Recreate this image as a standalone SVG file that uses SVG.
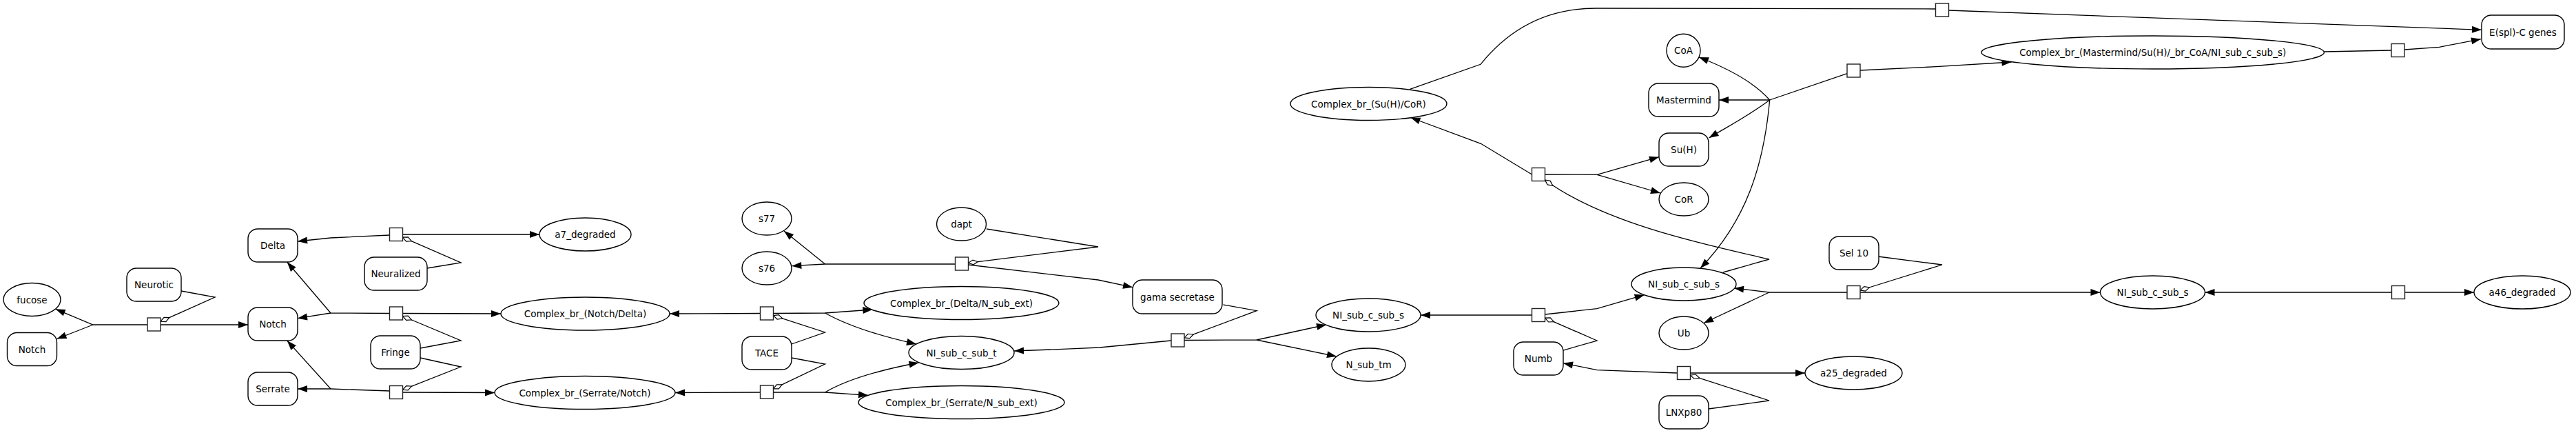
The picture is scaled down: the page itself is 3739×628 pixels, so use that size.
<svg xmlns="http://www.w3.org/2000/svg" width="3739" height="628" viewBox="0 0 3739 628">
<style>
.nd rect,.nd ellipse{fill:#fff;stroke:#000;stroke-width:1.4}
.sq{fill:#fff;stroke:#222;stroke-width:1.4}
.ed path{fill:none;stroke:#000;stroke-width:1.3}
.ed .a{marker-end:url(#ar)}
.ed .m{marker-end:url(#dm)}
text{font-family:"DejaVu Sans","Liberation Sans",sans-serif;font-size:13.5px;text-anchor:middle;fill:#000}
</style>
<defs>
<marker id="ar" markerUnits="userSpaceOnUse" markerWidth="15" markerHeight="11" refX="14" refY="5" orient="auto" overflow="visible"><path d="M0,0 L14,5 L0,10 z" fill="#000"/></marker>
<marker id="dm" markerUnits="userSpaceOnUse" markerWidth="16" markerHeight="9" refX="14.5" refY="4" orient="auto" overflow="visible"><path d="M0.5,4 L7.5,0.6 L14.5,4 L7.5,7.4 z" fill="#fff" stroke="#000" stroke-width="1.2"/></marker>
</defs>
<rect width="3739" height="628" fill="#fff"/>
<g id="edges" class="ed">
<path class="a" d="M214,471 L135,471 L80.7,448.3"/>
<path class="a" d="M135,471 L82.5,491.5"/>
<path class="a" d="M233,471 L360,471"/>
<path class="m" d="M263,422 L312,431 L233,466.3"/>
<path class="a" d="M565.5,341 L480,345 L432,350"/>
<path class="a" d="M584.5,340 L783,340"/>
<path class="m" d="M620,389 L669,381 L584.5,344.1"/>
<path class="a" d="M565.5,454.5 L480,454 L416.7,380"/>
<path class="a" d="M480,454 L432,461.7"/>
<path class="a" d="M584.5,454.5 L727,455"/>
<path class="m" d="M610,505 L669,494 L584.5,458.5"/>
<path class="a" d="M565.5,567 L480,564 L432,564"/>
<path class="a" d="M480,564 L416.7,494"/>
<path class="a" d="M584.5,569 L718,569.5"/>
<path class="m" d="M610,519 L669,532 L584.5,565.3"/>
<path class="a" d="M1103.5,454.5 L972,455"/>
<path class="a" d="M1122.5,454.5 L1197.5,454 L1266.4,449"/>
<path class="a" d="M1197.5,454 C1230,472 1280,488 1330,499"/>
<path class="m" d="M1149,499 L1197.5,482 L1122.5,457.6"/>
<path class="a" d="M1103.5,569 L980,569.5"/>
<path class="a" d="M1122.5,569 L1197.5,569 L1260,573.3"/>
<path class="a" d="M1197.5,569 C1230,550 1280,536 1333.5,526"/>
<path class="m" d="M1149,519 L1197.5,528 L1122.5,563.9"/>
<path class="a" d="M1386.5,383 L1197.5,383 L1149.3,385.7"/>
<path class="a" d="M1197.5,383 L1138,335"/>
<path class="a" d="M1405.5,384 L1594,406 L1644,416.7"/>
<path class="m" d="M1431.8,332 L1594,358 L1405.5,381.3"/>
<path class="a" d="M1700,494 L1596,504 L1560,505.7 L1472,509"/>
<path class="a" d="M1719,493.5 L1824,493 L1925,471"/>
<path class="a" d="M1824,493 L1940,517"/>
<path class="m" d="M1775.5,442 L1824,450.7 L1719,489.9"/>
<path class="a" d="M2223.5,457 L2062,457"/>
<path class="a" d="M2242.5,456 L2318,447.7 L2386.7,427.7"/>
<path class="m" d="M2269,508 L2318,494 L2242.5,461.1"/>
<path class="a" d="M2434.5,541 L2318,536.7 L2269,526.7"/>
<path class="a" d="M2453.5,541 L2620,541"/>
<path class="m" d="M2480,593 L2568,581 L2453.5,544.1"/>
<path class="a" d="M2681,424 L2568,424 L2517,418"/>
<path class="a" d="M2568,424 L2473,468.5"/>
<path class="a" d="M2700,424 L2820,424 L3048.5,424"/>
<path class="m" d="M2726,372 L2819,384 L2700,421"/>
<path class="a" d="M3472,424 L3423,424 L3200.5,424"/>
<path class="a" d="M3490,424 L3540.5,424 L3591,424"/>
<path class="a" d="M2223.5,253 L2149.4,208.3 L2047.5,170.5"/>
<path class="a" d="M2242.5,253 L2318,253.3 L2408,227.7"/>
<path class="a" d="M2318,253.3 L2410,280"/>
<path class="m" d="M2501,395 L2568,376 C2480,356 2330,325 2242.5,261"/>
<path d="M2046.6,129.3 L2149,93.3 C2200,30 2260,12 2316,12 L2809.5,13"/>
<path class="a" d="M2828.5,15 L3602,43.3"/>
<path d="M2681,106.7 L2568.7,145"/>
<path class="a" d="M2568.7,145 C2545,118 2505,98 2466,83"/>
<path class="a" d="M2568.7,145 L2495,145"/>
<path class="a" d="M2568.7,145 C2535,170 2505,185 2480.5,200"/>
<path class="a" d="M2568.7,145 C2560,240 2535,320 2468,389"/>
<path class="a" d="M2700,102 L2810.6,96.7 L2919.5,90"/>
<path d="M3373.4,75 L3471,73"/>
<path class="a" d="M3490,72 L3540.5,68.3 L3601,56.7"/>
</g>
<g id="n_fucose" class="nd"><ellipse cx="46.5" cy="434.5" rx="41.5" ry="24"/><text x="46.5" y="439.5">fucose</text></g>
<g id="n_notch_left" class="nd"><rect x="10.5" y="482.5" width="72" height="48" rx="14"/><text x="46.5" y="511.5">Notch</text></g>
<g id="n_neurotic" class="nd"><rect x="184" y="389" width="79" height="48" rx="14"/><text x="223.5" y="418">Neurotic</text></g>
<g id="n_delta" class="nd"><rect x="360" y="332" width="72" height="48" rx="14"/><text x="396" y="361">Delta</text></g>
<g id="n_notch" class="nd"><rect x="360" y="446" width="72" height="48" rx="14"/><text x="396" y="475">Notch</text></g>
<g id="n_serrate" class="nd"><rect x="360" y="540" width="72" height="48" rx="14"/><text x="396" y="569">Serrate</text></g>
<g id="n_neuralized" class="nd"><rect x="529" y="373" width="91" height="48" rx="14"/><text x="574.5" y="402">Neuralized</text></g>
<g id="n_fringe" class="nd"><rect x="538" y="487" width="72" height="48" rx="14"/><text x="574" y="516">Fringe</text></g>
<g id="n_a7" class="nd"><ellipse cx="849.5" cy="340" rx="66.5" ry="24"/><text x="849.5" y="345">a7_degraded</text></g>
<g id="n_cx_nd" class="nd"><ellipse cx="849.5" cy="455" rx="122.5" ry="24"/><text x="849.5" y="460">Complex_br_(Notch/Delta)</text></g>
<g id="n_cx_sn" class="nd"><ellipse cx="849" cy="569.5" rx="131" ry="24"/><text x="849" y="574.5">Complex_br_(Serrate/Notch)</text></g>
<g id="n_s77" class="nd"><ellipse cx="1113" cy="317" rx="36" ry="24"/><text x="1113" y="322">s77</text></g>
<g id="n_s76" class="nd"><ellipse cx="1113" cy="389" rx="36" ry="24"/><text x="1113" y="394">s76</text></g>
<g id="n_tace" class="nd"><rect x="1077" y="488" width="72" height="48" rx="14"/><text x="1113" y="517">TACE</text></g>
<g id="n_dapt" class="nd"><ellipse cx="1395.5" cy="325" rx="36" ry="24"/><text x="1395.5" y="330">dapt</text></g>
<g id="n_cx_dn" class="nd"><ellipse cx="1395.5" cy="439.5" rx="141.5" ry="24"/><text x="1395.5" y="444.5">Complex_br_(Delta/N_sub_ext)</text></g>
<g id="n_nict" class="nd"><ellipse cx="1395.5" cy="511.5" rx="76.5" ry="24"/><text x="1395.5" y="516.5">NI_sub_c_sub_t</text></g>
<g id="n_cx_snx" class="nd"><ellipse cx="1395.5" cy="583.5" rx="149.5" ry="24"/><text x="1395.5" y="588.5">Complex_br_(Serrate/N_sub_ext)</text></g>
<g id="n_gama" class="nd"><rect x="1644" y="406" width="130" height="49" rx="14"/><text x="1709" y="435.5">gama secretase</text></g>
<g id="n_nics1" class="nd"><ellipse cx="1986" cy="457" rx="76" ry="24"/><text x="1986" y="462">NI_sub_c_sub_s</text></g>
<g id="n_ntm" class="nd"><ellipse cx="1986.5" cy="529" rx="53.5" ry="24"/><text x="1986.5" y="534">N_sub_tm</text></g>
<g id="n_cx_shc" class="nd"><ellipse cx="1986.5" cy="150.5" rx="113.5" ry="24"/><text x="1986.5" y="155.5">Complex_br_(Su(H)/CoR)</text></g>
<g id="n_numb" class="nd"><rect x="2197" y="496" width="72" height="48" rx="14"/><text x="2233" y="525">Numb</text></g>
<g id="n_nics2" class="nd"><ellipse cx="2444" cy="412" rx="76" ry="24"/><text x="2444" y="417">NI_sub_c_sub_s</text></g>
<g id="n_ub" class="nd"><ellipse cx="2444" cy="483" rx="36" ry="24"/><text x="2444" y="488">Ub</text></g>
<g id="n_lnxp80" class="nd"><rect x="2408" y="574" width="72" height="48" rx="14"/><text x="2444" y="603">LNXp80</text></g>
<g id="n_coa" class="nd"><ellipse cx="2443.5" cy="73.3" rx="24.5" ry="24"/><text x="2443.5" y="78.3">CoA</text></g>
<g id="n_mastermind" class="nd"><rect x="2393" y="121" width="102" height="48" rx="14"/><text x="2444" y="150">Mastermind</text></g>
<g id="n_suh" class="nd"><rect x="2408" y="193" width="72" height="48" rx="14"/><text x="2444" y="222">Su(H)</text></g>
<g id="n_cor" class="nd"><ellipse cx="2444" cy="289" rx="36" ry="24"/><text x="2444" y="294">CoR</text></g>
<g id="n_a25" class="nd"><ellipse cx="2690.5" cy="541" rx="70.5" ry="24"/><text x="2690.5" y="546">a25_degraded</text></g>
<g id="n_sel10" class="nd"><rect x="2655" y="343" width="72" height="48" rx="14"/><text x="2691" y="372">Sel 10</text></g>
<g id="n_nics3" class="nd"><ellipse cx="3124.5" cy="424" rx="76" ry="24"/><text x="3124.5" y="429">NI_sub_c_sub_s</text></g>
<g id="n_cx_mm" class="nd"><ellipse cx="3124.7" cy="76" rx="248.7" ry="24"/><text x="3124.7" y="81">Complex_br_(Mastermind/Su(H)/_br_CoA/NI_sub_c_sub_s)</text></g>
<g id="n_a46" class="nd"><ellipse cx="3661" cy="424" rx="70" ry="24"/><text x="3661" y="429">a46_degraded</text></g>
<g id="n_espl" class="nd"><rect x="3602" y="22" width="120" height="49" rx="14"/><text x="3662" y="51.5">E(spl)-C genes</text></g>
<g id="n_p1"><rect class="sq" x="214" y="461" width="19" height="19"/></g>
<g id="n_pA"><rect class="sq" x="565.5" y="330.5" width="19" height="19"/></g>
<g id="n_pB"><rect class="sq" x="565.5" y="445" width="19" height="19"/></g>
<g id="n_pC"><rect class="sq" x="565.5" y="559.5" width="19" height="19"/></g>
<g id="n_pE"><rect class="sq" x="1103.5" y="445" width="19" height="19"/></g>
<g id="n_pF"><rect class="sq" x="1103.5" y="559" width="19" height="19"/></g>
<g id="n_pD"><rect class="sq" x="1386.5" y="373" width="19" height="19"/></g>
<g id="n_pG"><rect class="sq" x="1700" y="484" width="19" height="19"/></g>
<g id="n_pH"><rect class="sq" x="2223.5" y="447.5" width="19" height="19"/></g>
<g id="n_pJ"><rect class="sq" x="2434.5" y="531.5" width="19" height="19"/></g>
<g id="n_pI"><rect class="sq" x="2681" y="414.5" width="19" height="19"/></g>
<g id="n_pK"><rect class="sq" x="3471.5" y="414.5" width="19" height="19"/></g>
<g id="n_pN"><rect class="sq" x="2223.5" y="243.5" width="19" height="19"/></g>
<g id="n_pL"><rect class="sq" x="2809.5" y="5" width="19" height="19"/></g>
<g id="n_pM"><rect class="sq" x="2681" y="93" width="19" height="19"/></g>
<g id="n_pO"><rect class="sq" x="3471" y="63.5" width="19" height="19"/></g>
</svg>
